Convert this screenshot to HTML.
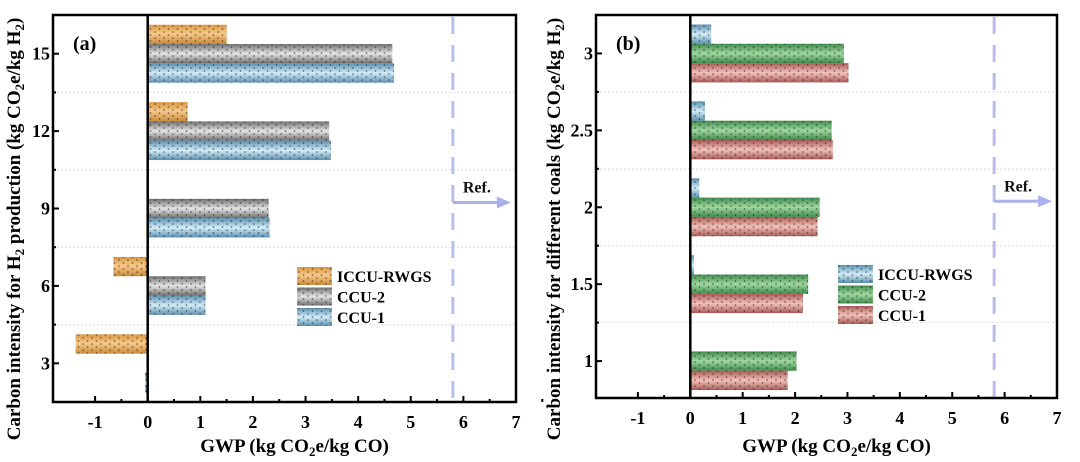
<!DOCTYPE html>
<html><head><meta charset="utf-8">
<style>
html,body{margin:0;padding:0;background:#fff;}
svg{display:block;font-family:"Liberation Serif",serif;font-weight:bold;}
</style></head>
<body>
<svg id="chart" width="1080" height="462" viewBox="0 0 1080 462">
<defs>
<linearGradient id="g-orange" x1="0" y1="0" x2="0" y2="1"><stop offset="0" stop-color="#d9963f"/><stop offset="0.45" stop-color="#f7c98a"/><stop offset="1" stop-color="#c98a3a"/></linearGradient>
<linearGradient id="g-gray" x1="0" y1="0" x2="0" y2="1"><stop offset="0" stop-color="#6e6e6e"/><stop offset="0.5" stop-color="#e4e4e4"/><stop offset="1" stop-color="#6e6e6e"/></linearGradient>
<linearGradient id="g-blue" x1="0" y1="0" x2="0" y2="1"><stop offset="0" stop-color="#5b8fae"/><stop offset="0.5" stop-color="#d2ecf8"/><stop offset="1" stop-color="#5b8fae"/></linearGradient>
<linearGradient id="g-green" x1="0" y1="0" x2="0" y2="1"><stop offset="0" stop-color="#3f8a4c"/><stop offset="0.5" stop-color="#9fd89f"/><stop offset="1" stop-color="#3f8a4c"/></linearGradient>
<linearGradient id="g-red" x1="0" y1="0" x2="0" y2="1"><stop offset="0" stop-color="#a95a55"/><stop offset="0.5" stop-color="#f2c1ba"/><stop offset="1" stop-color="#a95a55"/></linearGradient>
<pattern id="dots" width="9" height="6" patternUnits="userSpaceOnUse"><circle cx="2" cy="2" r="0.8" fill="#222"/><circle cx="6.5" cy="5" r="0.8" fill="#222"/></pattern>
</defs>
</svg>
<script>
const NS="http://www.w3.org/2000/svg";
const svg=document.getElementById('chart');
// Panel (a) data
const catsA=[3,6,9,12,15];
const iccuA=[-1.37,-0.65,0.02,0.76,1.5];
const ccu2A=[0,1.1,2.3,3.45,4.65];
const ccu1A=[-0.05,1.1,2.32,3.48,4.68];
const yTicksA=["3","6","9","12","15"];
// Panel (b) data
const catsB=[1,1.5,2,2.5,3];
const iccuB=[0,0.07,0.17,0.28,0.4];
const ccu2B=[2.03,2.25,2.47,2.7,2.93];
const ccu1B=[1.86,2.15,2.43,2.72,3.02];
const yTicksB=["1","1.5","2","2.5","3"];
const xTicks=[-1,0,1,2,3,4,5,6,7];
const refValue=5.8;

function el(tag,attrs,parent){const e=document.createElementNS(NS,tag);for(const k in attrs)e.setAttribute(k,attrs[k]);(parent||svg).appendChild(e);return e;}

function panel(o){
  const g=el('g',{});
  
  
  const X=v=>o.x0+(v-o.xmin)/(o.xmax-o.xmin)*(o.x1-o.x0);
  const Y=v=>o.y1-(v-o.ymin)/(o.ymax-o.ymin)*(o.y1-o.y0);
  const step=o.cats[1]-o.cats[0];
  for(let i=0;i<o.cats.length-1;i++){
    const l=el('line',{x1:o.x0,x2:o.x1,y1:Y(o.cats[i]+step/2),y2:Y(o.cats[i]+step/2),stroke:'#ddd','stroke-width':1,'stroke-dasharray':'2 2'},g);
    
    
  }
  const rl=el('line',{x1:X(refValue),x2:X(refValue),y1:o.y0+2,y2:o.y1,stroke:'#b9bdee','stroke-width':3,'stroke-dasharray':'17 11'},g);
  
  
  const ay=Y(o.cats[2]);
  const ar=el('line',{x1:X(refValue),x2:X(refValue)+45,y1:ay-6,y2:ay-6,stroke:'#aab0ea','stroke-width':3},g);
  
  
  el('polygon',{points:`${X(refValue)+44},${ay-12} ${X(refValue)+58},${ay-6} ${X(refValue)+44},${ay}`,fill:'#aab0ea'},g);
  const rt=el('text',{x:X(refValue)+10,y:ay-16,'font-size':16,fill:'#111'},g);rt.textContent='Ref.';
  
  
  const bh=19.3;
  const series=[[o.s1,o.c1,'bar-iccu-rwgs',-1],[o.s2,o.c2,'bar-ccu-2',0],[o.s3,o.c3,'bar-ccu-1',1]];
  o.cats.forEach((c,i)=>{
    series.forEach(s=>{
      const v=s[0][i];
      if(Math.abs(v)<1e-9) return;
      const yc=Y(c)+s[3]*bh;
      const xa=X(Math.min(0,v)), xb=X(Math.max(0,v));
      const r=el('rect',{x:xa,y:yc-bh/2,width:xb-xa,height:bh,fill:`url(#${s[1]})`},g);
      
      
      el('rect',{x:xa,y:yc-bh/2,width:xb-xa,height:bh,fill:'url(#dots)',opacity:0.7},g);
    });
  });
  const z=el('line',{x1:X(0),x2:X(0),y1:o.y0,y2:o.y1,stroke:'#000','stroke-width':2.5},g);
  
  
  const f=el('rect',{x:o.x0,y:o.y0,width:o.x1-o.x0,height:o.y1-o.y0,fill:'none',stroke:'#000','stroke-width':2.5},g);
  
  
  xTicks.forEach(t=>{
    el('line',{x1:X(t),x2:X(t),y1:o.y1,y2:o.y1-6,stroke:'#000','stroke-width':2},g);
    el('line',{x1:X(t+0.5),x2:X(t+0.5),y1:o.y1,y2:o.y1-3,stroke:'#000','stroke-width':2},g);
    const tx=el('text',{x:X(t),y:o.y1+26,'font-size':18,'text-anchor':'middle'},g);tx.textContent=String(t);
    
    
  });
  o.cats.forEach((c,i)=>{
    el('line',{x1:o.x0,x2:o.x0+6,y1:Y(c),y2:Y(c),stroke:'#000','stroke-width':2},g);
    el('line',{x1:o.x0,x2:o.x0+3,y1:Y(c+step/2),y2:Y(c+step/2),stroke:'#000','stroke-width':2},g);
    const ty=el('text',{x:o.x0-3,y:Y(c)+6,'font-size':18,'text-anchor':'end'},g);ty.textContent=o.yt[i];
    
    
  });
  const pl=el('text',{x:o.x0+20,y:50,'font-size':20},g);pl.textContent=o.label;
  
  
  const xt=el('text',{x:(o.x0+o.x1)/2+10,y:452,'font-size':19,'text-anchor':'middle'},g);
  xt.innerHTML='GWP (kg CO<tspan dy="4" font-size="13">2</tspan><tspan dy="-4">e/kg CO)</tspan>';
  
  
  const yt=el('text',{transform:`translate(${o.ytx},${o.ytc}) rotate(-90)`,'font-size':19,'text-anchor':'middle'},g);
  yt.innerHTML=o.ytitle;
  
  
  const leg=el('g',{},g);
  
  
  [[o.c1,'ICCU-RWGS'],[o.c2,'CCU-2'],[o.c3,'CCU-1']].forEach((e,i)=>{
    const y=o.ly+i*20.5;
    const sw=el('rect',{x:o.lx,y:y,width:35,height:18,fill:`url(#${e[0]})`},leg);
    
    
    el('rect',{x:o.lx,y:y,width:35,height:18,fill:'url(#dots)',opacity:0.7},leg);
    const lt=el('text',{x:o.lx+40,y:y+15,'font-size':16},leg);lt.textContent=e[1];
    
    
  });
}

panel({name:'panel-a',label:'(a)',x0:53,x1:516,y0:15,y1:402,xmin:-1.8,xmax:7,ymin:1.5,ymax:16.5,
  cats:catsA,s1:iccuA,s2:ccu2A,s3:ccu1A,c1:'g-orange',c2:'g-gray',c3:'g-blue',yt:yTicksA,lx:297,ly:267,ytx:20,ytc:229,
  ytitle:'Carbon intensity for H<tspan dy="4" font-size="13">2</tspan><tspan dy="-4"> production (kg CO</tspan><tspan dy="4" font-size="13">2</tspan><tspan dy="-4">e/kg H</tspan><tspan dy="4" font-size="13">2</tspan><tspan dy="-4">)</tspan>'});
panel({name:'panel-b',label:'(b)',x0:596,x1:1057,y0:15,y1:398,xmin:-1.8,xmax:7,ymin:0.76,ymax:3.25,
  cats:catsB,s1:iccuB,s2:ccu2B,s3:ccu1B,c1:'g-blue',c2:'g-green',c3:'g-red',yt:yTicksB,lx:838,ly:265,ytx:560,ytc:229,
  ytitle:'Carbon intensity for different coals (kg CO<tspan dy="4" font-size="13">2</tspan><tspan dy="-4">e/kg H</tspan><tspan dy="4" font-size="13">2</tspan><tspan dy="-4">)</tspan>'});
</script>
</body></html>
